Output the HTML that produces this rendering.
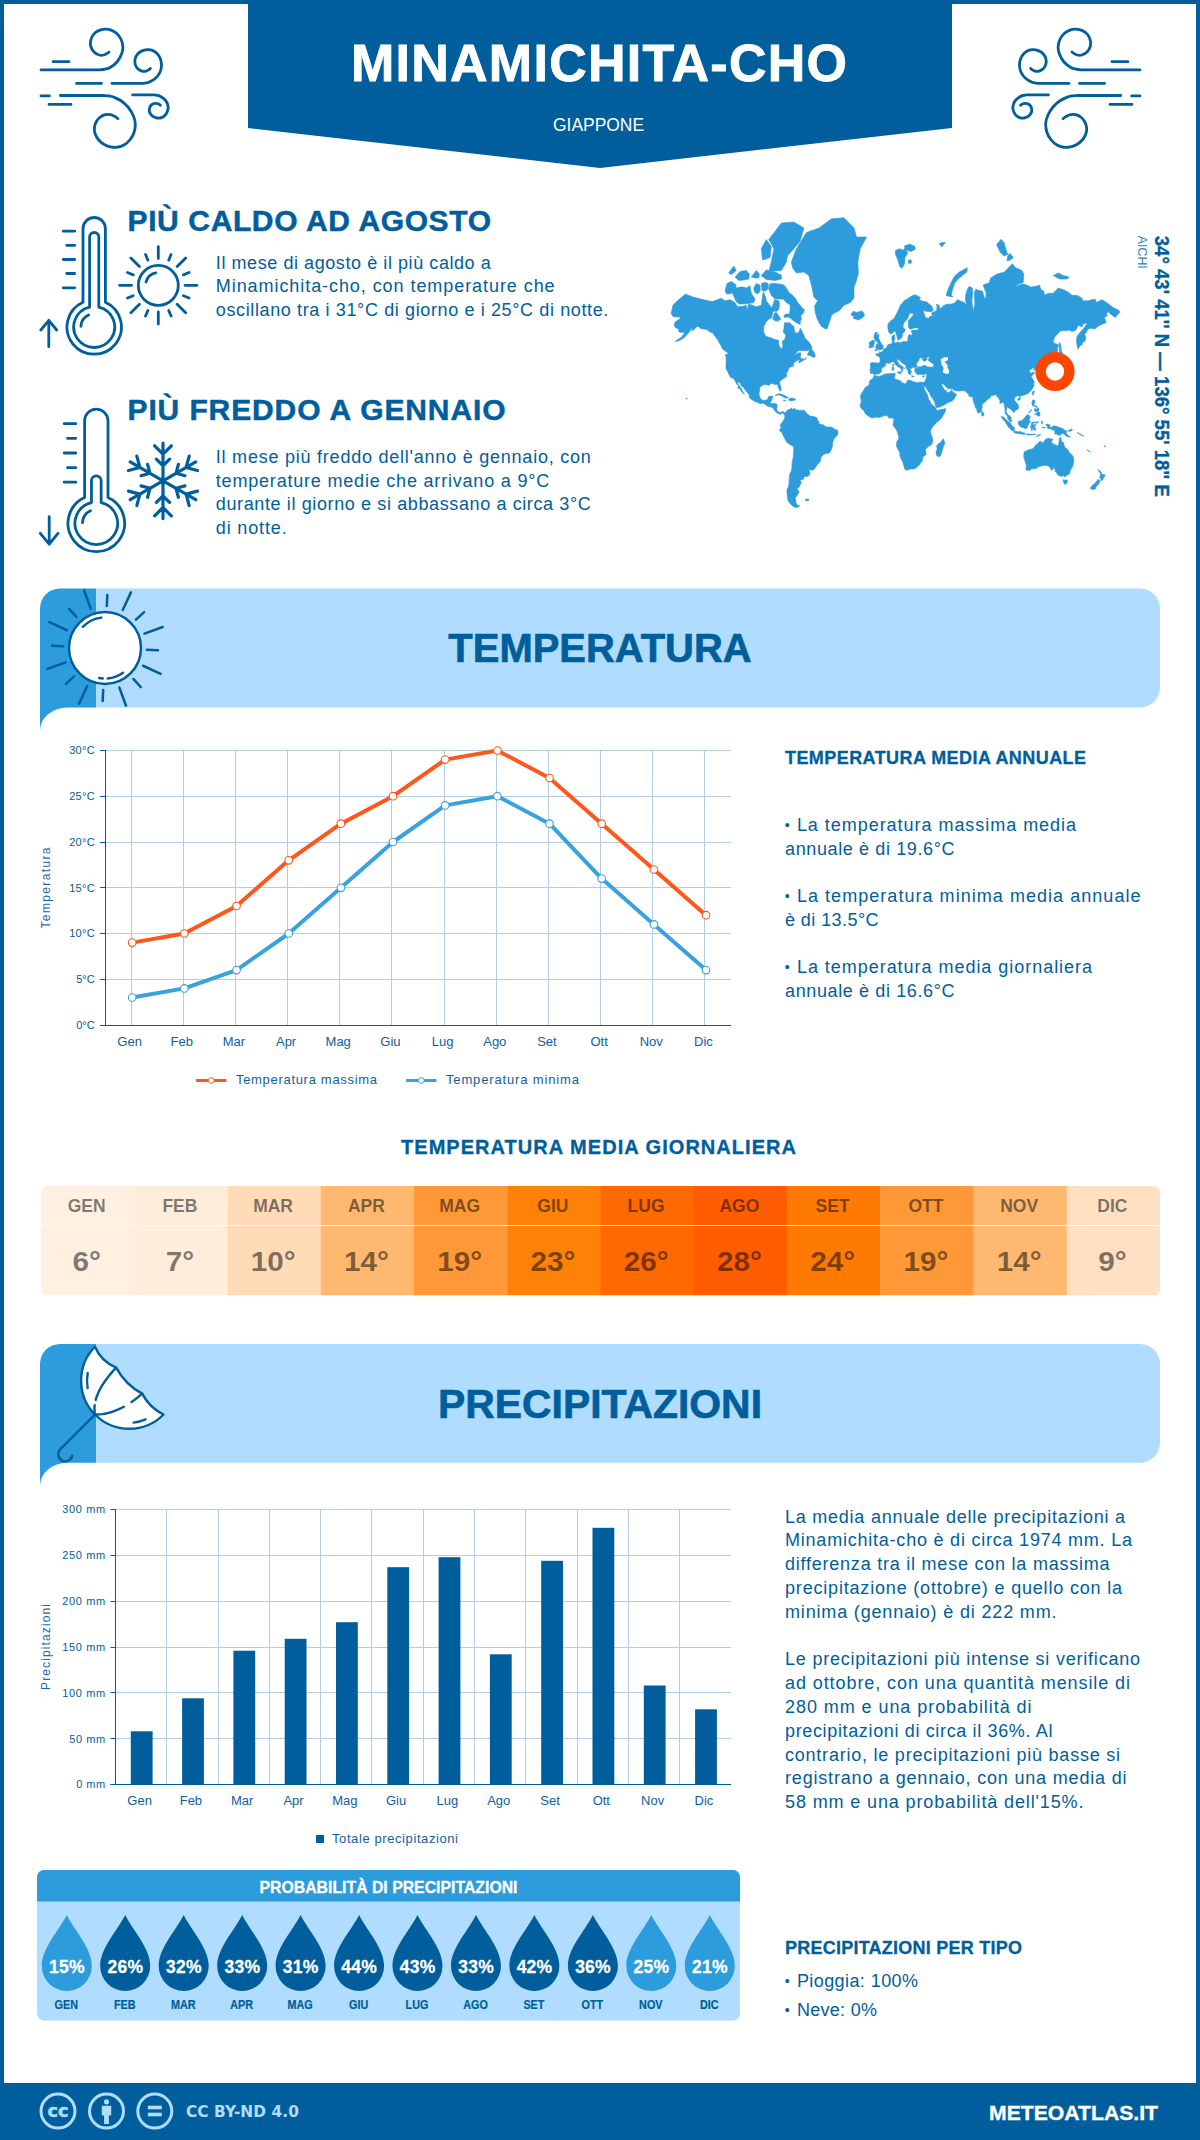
<!DOCTYPE html>
<html lang="it"><head><meta charset="utf-8"><title>Minamichita-cho - Meteo</title>
<style>html,body{margin:0;padding:0;background:#fff}svg{display:block}text{font-family:"Liberation Sans", sans-serif}</style>
</head><body>
<svg width="1200" height="2140" viewBox="0 0 1200 2140">
<rect x="0" y="0" width="1200" height="2140" fill="#fff"/>
<rect x="2" y="2" width="1196" height="2136" fill="none" stroke="#005e9c" stroke-width="4"/>
<rect x="0" y="2083" width="1200" height="57" fill="#005e9c"/>
<polygon points="248,0 952,0 952,128 600,168 248,128" fill="#005e9c"/>
<text x="599.0" y="81.0" font-size="52" font-weight="bold" stroke="#fff" stroke-width="0.83" fill="#fff" text-anchor="middle" textLength="496.0" lengthAdjust="spacing">MINAMICHITA-CHO</text>
<text x="598.5" y="131.0" font-size="18" fill="#fff" text-anchor="middle" textLength="91.0" lengthAdjust="spacingAndGlyphs">GIAPPONE</text>
<g transform="translate(30,20) scale(0.125)"><path d="M88,399 H530 C535.0,398.9 548.3,399.5 560.0,398.5 C571.7,397.5 587.0,395.8 600.0,393.0 C613.0,390.2 621.7,391.8 638.0,382.0 C654.3,372.2 682.0,353.0 698.0,334.0 C714.0,315.0 726.5,288.0 734.0,268.0 C741.5,248.0 744.0,233.0 743.0,214.0 C742.0,195.0 736.5,172.0 728.0,154.0 C719.5,136.0 706.0,118.5 692.0,106.0 C678.0,93.5 659.0,84.5 644.0,79.0 C629.0,73.5 618.0,72.0 602.0,73.0 C586.0,74.0 564.0,77.5 548.0,85.0 C532.0,92.5 516.5,104.5 506.0,118.0 C495.5,131.5 488.2,150.0 485.0,166.0 C481.8,182.0 482.5,199.0 487.0,214.0 C491.5,229.0 500.8,245.0 512.0,256.0 C523.2,267.0 541.0,276.0 554.0,280.0 C567.0,284.0 579.0,282.5 590.0,280.0 C601.0,277.5 613.0,269.0 620.0,265.0 C627.0,261.0 630.0,257.5 632.0,256.0 M185,333 H312 M372,507 H572 M656,507 H880 C884.7,506.9 898.8,507.3 908.0,506.5 C917.2,505.7 927.0,503.8 935.0,502.0 C943.0,500.2 944.5,502.0 956.0,496.0 C967.5,490.0 990.0,479.0 1004.0,466.0 C1018.0,453.0 1032.0,435.0 1040.0,418.0 C1048.0,401.0 1051.5,382.0 1052.0,364.0 C1052.5,346.0 1049.0,326.0 1043.0,310.0 C1037.0,294.0 1027.5,279.5 1016.0,268.0 C1004.5,256.5 987.0,246.2 974.0,241.0 C961.0,235.8 951.0,236.0 938.0,237.0 C925.0,238.0 909.0,240.8 896.0,247.0 C883.0,253.2 869.2,263.5 860.0,274.0 C850.8,284.5 844.2,297.0 841.0,310.0 C837.8,323.0 837.8,339.0 841.0,352.0 C844.2,365.0 850.8,378.5 860.0,388.0 C869.2,397.5 885.0,405.5 896.0,409.0 C907.0,412.5 917.0,410.8 926.0,409.0 C935.0,407.2 943.8,401.7 950.0,398.0 C956.2,394.3 960.8,388.8 963.0,387.0 M88,607 H155 M243,604 H575 C579.5,604.1 591.5,603.8 602.0,604.5 C612.5,605.2 627.0,606.1 638.0,608.0 C649.0,609.9 653.0,609.7 668.0,616.0 C683.0,622.3 709.0,633.0 728.0,646.0 C747.0,659.0 766.0,675.0 782.0,694.0 C798.0,713.0 814.0,738.0 824.0,760.0 C834.0,782.0 840.5,803.0 842.0,826.0 C843.5,849.0 840.0,876.0 833.0,898.0 C826.0,920.0 813.5,941.0 800.0,958.0 C786.5,975.0 769.0,990.0 752.0,1000.0 C735.0,1010.0 716.0,1015.5 698.0,1018.0 C680.0,1020.5 662.0,1019.0 644.0,1015.0 C626.0,1011.0 606.0,1003.5 590.0,994.0 C574.0,984.5 559.5,972.0 548.0,958.0 C536.5,944.0 526.5,926.0 521.0,910.0 C515.5,894.0 513.5,878.0 515.0,862.0 C516.5,846.0 522.5,828.0 530.0,814.0 C537.5,800.0 548.0,787.5 560.0,778.0 C572.0,768.5 588.0,760.5 602.0,757.0 C616.0,753.5 631.0,754.5 644.0,757.0 C657.0,759.5 670.2,766.7 680.0,772.0 C689.8,777.3 699.2,786.2 703.0,789.0 M152,675 H328 M821,599 H965 C969.5,599.1 983.2,598.8 992.0,599.5 C1000.8,600.2 1010.0,601.2 1018.0,603.0 C1026.0,604.8 1029.3,603.8 1040.0,610.0 C1050.7,616.2 1071.5,628.0 1082.0,640.0 C1092.5,652.0 1099.5,669.0 1103.0,682.0 C1106.5,695.0 1106.0,705.5 1103.0,718.0 C1100.0,730.5 1093.5,746.5 1085.0,757.0 C1076.5,767.5 1063.5,776.5 1052.0,781.0 C1040.5,785.5 1028.0,786.0 1016.0,784.0 C1004.0,782.0 989.8,776.5 980.0,769.0 C970.2,761.5 961.0,749.5 957.0,739.0 C953.0,728.5 953.7,716.0 956.0,706.0 C958.3,696.0 964.0,685.5 971.0,679.0 C978.0,672.5 989.0,668.5 998.0,667.0 C1007.0,665.5 1017.5,667.5 1025.0,670.0 C1032.5,672.5 1040.0,680.0 1043.0,682.0" fill="none" stroke="#005e9c" stroke-width="22.5" stroke-linecap="round" stroke-linejoin="round"/></g>
<g transform="translate(1181,0) scale(-1,1)"><g transform="translate(30,20) scale(0.125)"><path d="M88,399 H530 C535.0,398.9 548.3,399.5 560.0,398.5 C571.7,397.5 587.0,395.8 600.0,393.0 C613.0,390.2 621.7,391.8 638.0,382.0 C654.3,372.2 682.0,353.0 698.0,334.0 C714.0,315.0 726.5,288.0 734.0,268.0 C741.5,248.0 744.0,233.0 743.0,214.0 C742.0,195.0 736.5,172.0 728.0,154.0 C719.5,136.0 706.0,118.5 692.0,106.0 C678.0,93.5 659.0,84.5 644.0,79.0 C629.0,73.5 618.0,72.0 602.0,73.0 C586.0,74.0 564.0,77.5 548.0,85.0 C532.0,92.5 516.5,104.5 506.0,118.0 C495.5,131.5 488.2,150.0 485.0,166.0 C481.8,182.0 482.5,199.0 487.0,214.0 C491.5,229.0 500.8,245.0 512.0,256.0 C523.2,267.0 541.0,276.0 554.0,280.0 C567.0,284.0 579.0,282.5 590.0,280.0 C601.0,277.5 613.0,269.0 620.0,265.0 C627.0,261.0 630.0,257.5 632.0,256.0 M185,333 H312 M372,507 H572 M656,507 H880 C884.7,506.9 898.8,507.3 908.0,506.5 C917.2,505.7 927.0,503.8 935.0,502.0 C943.0,500.2 944.5,502.0 956.0,496.0 C967.5,490.0 990.0,479.0 1004.0,466.0 C1018.0,453.0 1032.0,435.0 1040.0,418.0 C1048.0,401.0 1051.5,382.0 1052.0,364.0 C1052.5,346.0 1049.0,326.0 1043.0,310.0 C1037.0,294.0 1027.5,279.5 1016.0,268.0 C1004.5,256.5 987.0,246.2 974.0,241.0 C961.0,235.8 951.0,236.0 938.0,237.0 C925.0,238.0 909.0,240.8 896.0,247.0 C883.0,253.2 869.2,263.5 860.0,274.0 C850.8,284.5 844.2,297.0 841.0,310.0 C837.8,323.0 837.8,339.0 841.0,352.0 C844.2,365.0 850.8,378.5 860.0,388.0 C869.2,397.5 885.0,405.5 896.0,409.0 C907.0,412.5 917.0,410.8 926.0,409.0 C935.0,407.2 943.8,401.7 950.0,398.0 C956.2,394.3 960.8,388.8 963.0,387.0 M88,607 H155 M243,604 H575 C579.5,604.1 591.5,603.8 602.0,604.5 C612.5,605.2 627.0,606.1 638.0,608.0 C649.0,609.9 653.0,609.7 668.0,616.0 C683.0,622.3 709.0,633.0 728.0,646.0 C747.0,659.0 766.0,675.0 782.0,694.0 C798.0,713.0 814.0,738.0 824.0,760.0 C834.0,782.0 840.5,803.0 842.0,826.0 C843.5,849.0 840.0,876.0 833.0,898.0 C826.0,920.0 813.5,941.0 800.0,958.0 C786.5,975.0 769.0,990.0 752.0,1000.0 C735.0,1010.0 716.0,1015.5 698.0,1018.0 C680.0,1020.5 662.0,1019.0 644.0,1015.0 C626.0,1011.0 606.0,1003.5 590.0,994.0 C574.0,984.5 559.5,972.0 548.0,958.0 C536.5,944.0 526.5,926.0 521.0,910.0 C515.5,894.0 513.5,878.0 515.0,862.0 C516.5,846.0 522.5,828.0 530.0,814.0 C537.5,800.0 548.0,787.5 560.0,778.0 C572.0,768.5 588.0,760.5 602.0,757.0 C616.0,753.5 631.0,754.5 644.0,757.0 C657.0,759.5 670.2,766.7 680.0,772.0 C689.8,777.3 699.2,786.2 703.0,789.0 M152,675 H328 M821,599 H965 C969.5,599.1 983.2,598.8 992.0,599.5 C1000.8,600.2 1010.0,601.2 1018.0,603.0 C1026.0,604.8 1029.3,603.8 1040.0,610.0 C1050.7,616.2 1071.5,628.0 1082.0,640.0 C1092.5,652.0 1099.5,669.0 1103.0,682.0 C1106.5,695.0 1106.0,705.5 1103.0,718.0 C1100.0,730.5 1093.5,746.5 1085.0,757.0 C1076.5,767.5 1063.5,776.5 1052.0,781.0 C1040.5,785.5 1028.0,786.0 1016.0,784.0 C1004.0,782.0 989.8,776.5 980.0,769.0 C970.2,761.5 961.0,749.5 957.0,739.0 C953.0,728.5 953.7,716.0 956.0,706.0 C958.3,696.0 964.0,685.5 971.0,679.0 C978.0,672.5 989.0,668.5 998.0,667.0 C1007.0,665.5 1017.5,667.5 1025.0,670.0 C1032.5,672.5 1040.0,680.0 1043.0,682.0" fill="none" stroke="#005e9c" stroke-width="22.5" stroke-linecap="round" stroke-linejoin="round"/></g></g>
<path d="M83.00,302.21 V228.70 A11.20,11.20 0 0 1 105.40,228.70 V302.21 A27.20,27.20 0 1 1 83.00,302.21 Z M89.60,307.02 V237.10 A4.60,4.60 0 0 1 98.80,237.10 V307.02 A20.50,20.50 0 1 1 89.60,307.02 Z M80.89,326.30 A13.33,13.33 0 0 1 88.57,314.92 M63.3,231.2 H74.7 M63.3,259.5 H74.7 M63.3,287.8 H74.7 M66.7,245.3 H74.7 M66.7,273.5 H74.7 M48.8,346.7 V320.5 M40.8,330 L48.8,320.3 L56.7,330" fill="none" stroke="#005e9c" stroke-width="2.8" stroke-linecap="round" stroke-linejoin="round"/>
<path d="M84.60,497.53 V420.90 A11.70,11.70 0 0 1 108.00,420.90 V497.53 A28.30,28.30 0 1 1 84.60,497.53 Z M91.45,502.56 V480.65 A4.85,4.85 0 0 1 101.15,480.65 V502.56 A21.30,21.30 0 1 1 91.45,502.56 Z M82.47,522.58 A13.85,13.85 0 0 1 90.45,510.75 M64.2,423.7 H75.8 M64.2,453.0 H75.8 M64.2,482.2 H75.8 M67.5,438.3 H75.8 M67.5,467.7 H75.8 M49.2,516.7 V544 M40.3,533.3 L49.2,544.2 L58,533.3" fill="none" stroke="#005e9c" stroke-width="2.8" stroke-linecap="round" stroke-linejoin="round"/>
<circle cx="158.3" cy="285.3" r="20" fill="none" stroke="#005e9c" stroke-width="2.8"/>
<path d="M185.00,285.30 L197.00,285.30 M183.43,295.71 L189.07,298.04 M177.18,304.18 L185.67,312.67 M168.71,310.43 L171.04,316.07 M158.30,312.00 L158.30,324.00 M147.89,310.43 L145.56,316.07 M139.42,304.18 L130.93,312.67 M133.17,295.71 L127.53,298.04 M131.60,285.30 L119.60,285.30 M133.17,274.89 L127.53,272.56 M139.42,266.42 L130.93,257.93 M147.89,260.17 L145.56,254.53 M158.30,258.60 L158.30,246.60 M168.71,260.17 L171.04,254.53 M177.18,266.42 L185.67,257.93 M183.43,274.89 L189.07,272.56 M146.03,282.01 A12.7,12.7 0 0 1 155.66,272.88" fill="none" stroke="#005e9c" stroke-width="2.8" stroke-linecap="round"/>
<path d="M163.00,480.80 L163.00,443.00 M163.00,454.10 L154.66,445.76 M163.00,454.10 L171.34,445.76 M163.00,465.80 L156.42,459.22 M163.00,465.80 L169.58,459.22 M163.00,480.80 L195.74,461.90 M186.12,467.45 L189.18,456.05 M186.12,467.45 L197.52,470.50 M175.99,473.30 L178.40,464.32 M175.99,473.30 L184.97,475.71 M163.00,480.80 L195.74,499.70 M186.12,494.15 L197.52,491.10 M186.12,494.15 L189.18,505.55 M175.99,488.30 L184.97,485.89 M175.99,488.30 L178.40,497.28 M163.00,480.80 L163.00,518.60 M163.00,507.50 L171.34,515.84 M163.00,507.50 L154.66,515.84 M163.00,495.80 L169.58,502.38 M163.00,495.80 L156.42,502.38 M163.00,480.80 L130.26,499.70 M139.88,494.15 L136.82,505.55 M139.88,494.15 L128.48,491.10 M150.01,488.30 L147.60,497.28 M150.01,488.30 L141.03,485.89 M163.00,480.80 L130.26,461.90 M139.88,467.45 L128.48,470.50 M139.88,467.45 L136.82,456.05 M150.01,473.30 L141.03,475.71 M150.01,473.30 L147.60,464.32" fill="none" stroke="#005e9c" stroke-width="3.2" stroke-linecap="round"/>
<path d="M671.1,313.7 L673.0,305.0 L677.4,300.8 L685.5,294.1 L693.7,297.2 L704.9,300.1 L712.5,301.5 L721.2,298.3 L725.0,300.8 L730.0,299.7 L735.0,302.6 L737.5,306.7 L743.8,306.3 L746.3,305.0 L746.9,309.9 L748.8,304.0 L756.3,306.7 L761.3,305.3 L761.9,300.8 L763.2,291.7 L765.7,297.2 L766.3,300.8 L768.8,304.3 L772.0,307.7 L774.5,299.7 L778.9,300.8 L779.5,304.3 L778.9,309.3 L776.4,311.5 L773.2,310.9 L772.6,314.0 L771.3,317.8 L768.2,319.8 L766.3,321.7 L763.8,326.3 L763.6,332.0 L765.7,336.3 L771.3,337.9 L775.1,339.6 L778.5,340.3 L778.9,345.0 L780.7,348.5 L782.6,348.1 L782.9,345.0 L782.0,341.8 L785.1,338.5 L785.8,335.1 L783.2,332.0 L783.9,329.1 L784.5,322.8 L789.5,322.8 L793.9,326.5 L794.5,331.5 L796.4,333.2 L798.9,332.0 L800.4,328.3 L803.3,333.9 L805.2,338.5 L807.7,340.7 L809.6,342.9 L811.4,346.0 L811.8,348.1 L807.7,350.7 L802.7,350.5 L798.3,350.7 L795.8,353.0 L793.9,355.8 L797.7,353.0 L800.8,352.8 L800.8,354.9 L800.2,356.7 L800.8,358.2 L802.7,358.9 L805.2,359.3 L806.4,357.1 L805.8,358.9 L802.0,361.2 L798.9,363.0 L798.9,361.2 L800.8,359.4 L797.7,360.3 L795.8,361.6 L793.6,363.0 L793.0,365.5 L793.9,366.0 L792.0,366.5 L788.9,367.8 L788.6,369.6 L787.4,372.1 L786.4,373.6 L786.9,376.3 L784.5,378.0 L782.6,379.3 L780.1,381.2 L779.6,383.4 L780.7,386.3 L781.2,389.1 L780.9,391.0 L779.9,390.8 L778.9,388.7 L777.9,387.0 L778.0,385.3 L776.4,384.2 L774.5,384.5 L772.6,383.6 L770.1,383.7 L769.6,385.3 L767.6,385.0 L764.5,384.6 L762.6,385.3 L760.1,387.0 L759.6,389.8 L759.2,392.6 L759.1,394.9 L759.8,397.3 L761.3,399.2 L763.2,400.4 L765.7,399.9 L767.6,399.6 L768.2,397.3 L768.8,396.5 L771.3,395.9 L772.8,396.1 L772.3,398.0 L771.8,400.0 L771.1,401.3 L770.3,403.4 L772.6,403.5 L775.1,403.4 L777.2,404.6 L777.0,407.2 L776.7,409.7 L777.6,411.0 L778.9,412.3 L780.7,412.3 L782.0,411.6 L783.9,411.9 L784.8,412.9 L784.5,414.2 L783.5,413.8 L782.0,412.5 L781.0,414.4 L779.5,413.9 L777.6,413.2 L775.1,411.3 L774.2,409.7 L772.0,407.2 L769.5,406.7 L767.0,405.9 L764.5,403.9 L763.2,403.0 L760.7,403.7 L757.6,402.5 L754.4,401.2 L751.3,399.3 L749.4,397.7 L749.7,396.0 L748.2,393.6 L746.3,391.2 L744.4,389.1 L743.2,387.3 L741.0,385.6 L740.0,382.7 L737.8,381.7 L738.1,384.2 L740.3,387.0 L741.9,389.8 L743.2,392.2 L744.4,394.0 L743.5,393.6 L741.3,391.5 L740.6,389.6 L738.5,388.2 L737.5,387.3 L738.8,386.3 L736.9,384.2 L735.5,381.7 L734.8,380.2 L733.1,378.3 L730.6,377.5 L729.0,374.4 L728.1,372.4 L726.5,369.6 L725.9,368.2 L726.0,365.5 L726.1,362.1 L726.2,358.2 L725.4,354.3 L727.5,354.5 L728.1,356.2 L727.7,353.0 L725.6,351.0 L722.5,349.1 L721.2,346.0 L718.7,341.8 L717.5,339.6 L715.0,336.3 L712.5,332.7 L710.0,332.0 L706.8,329.6 L703.7,329.1 L700.6,328.6 L698.7,326.5 L696.2,327.0 L694.3,329.6 L691.8,330.8 L692.4,326.5 L690.5,330.3 L688.7,332.7 L685.5,336.3 L683.0,338.5 L679.9,340.3 L676.8,341.2 L675.1,341.6 L678.0,339.2 L681.1,337.4 L683.6,334.4 L684.6,332.0 L682.4,332.5 L678.9,332.0 L678.6,329.1 L675.5,327.8 L674.2,325.2 L674.9,322.3 L677.4,320.3 L679.9,318.9 L679.9,316.9 L677.4,316.9 L673.6,316.9Z M791.4,261.9 L796.4,248.7 L806.4,232.6 L819.0,228.0 L831.5,218.8 L844.0,217.7 L854.0,228.0 L856.5,237.0 L866.6,237.0 L860.3,248.7 L857.8,261.9 L858.4,273.0 L856.5,280.4 L854.0,287.1 L854.0,293.3 L854.0,297.9 L850.3,302.6 L844.0,305.3 L839.0,310.9 L834.0,313.3 L831.5,315.5 L830.2,319.8 L828.4,325.2 L827.1,329.1 L824.6,328.6 L821.5,326.5 L819.0,322.5 L817.1,318.4 L815.2,312.4 L814.6,306.0 L817.7,300.8 L813.9,297.2 L812.7,291.3 L811.4,285.0 L808.9,275.6 L803.9,272.0 L796.4,273.0 L792.6,267.7Z M800.2,324.4 L798.9,323.9 L795.1,322.0 L791.4,318.9 L788.3,316.9 L784.5,317.5 L783.9,315.5 L786.4,314.0 L789.5,314.0 L790.1,309.3 L790.1,305.0 L786.4,302.6 L783.2,299.0 L780.1,299.0 L775.1,299.0 L771.3,295.3 L768.8,289.3 L770.1,283.6 L775.1,283.6 L780.1,284.1 L783.9,285.0 L786.4,288.0 L788.9,292.5 L792.6,295.3 L795.8,299.0 L797.7,302.6 L801.4,306.7 L804.5,310.2 L802.7,314.0 L800.8,315.5 L801.4,318.9 L800.2,321.7Z M732.5,293.3 L735.0,288.0 L740.0,287.1 L743.8,287.1 L746.3,288.0 L750.0,285.8 L751.3,293.3 L755.1,299.0 L753.8,302.6 L750.0,303.3 L743.8,304.0 L738.8,304.0 L735.6,300.8 L734.4,297.2Z M725.0,291.3 L726.9,283.6 L731.3,281.4 L736.3,285.0 L734.4,291.3 L730.6,293.7 L726.9,294.1Z M768.8,271.5 L771.3,261.9 L773.9,248.7 L768.8,239.5 L781.4,223.0 L793.9,222.0 L803.9,228.0 L800.2,241.1 L793.9,248.7 L787.6,255.6 L786.4,261.9 L781.4,270.4 L775.1,270.9Z M761.3,275.6 L766.3,269.9 L775.1,272.0 L781.4,275.1 L781.4,279.0 L775.1,280.4 L766.3,279.5Z M762.6,260.0 L761.3,248.7 L766.3,239.5 L771.3,246.5 L770.1,257.5Z M735.0,277.1 L740.0,271.5 L746.3,270.4 L749.4,274.1 L748.8,279.0 L743.8,280.0 L738.8,280.4Z M751.3,277.1 L756.3,270.4 L759.4,274.1 L758.8,278.0 L755.1,278.0Z M728.7,273.0 L733.8,266.0 L736.3,270.4 L731.3,274.6Z M761.9,290.5 L761.3,283.6 L765.1,282.3 L768.2,283.6 L768.5,288.4 L765.1,291.3Z M753.8,288.0 L756.3,283.6 L760.1,285.0 L760.1,291.3 L757.6,294.1 L754.4,292.1Z M772.6,318.4 L774.5,313.0 L776.4,312.4 L779.5,316.9 L780.7,319.2 L777.6,321.2 L774.5,320.6Z M807.2,355.1 L808.3,353.0 L809.7,349.7 L811.4,347.9 L812.1,350.1 L813.9,351.8 L814.6,353.9 L815.4,355.8 L814.6,357.3 L812.1,356.7 L810.8,355.8Z M775.1,395.5 L778.2,393.8 L781.4,394.0 L784.5,395.6 L787.6,397.1 L788.6,397.7 L784.5,398.1 L783.9,397.1 L780.7,395.6 L778.9,394.8 L776.4,395.6Z M788.4,400.1 L790.1,398.1 L793.9,398.3 L795.9,399.9 L793.9,400.3 L791.8,400.9Z M783.5,400.1 L786.0,400.4 L785.3,400.9 L783.6,400.7Z M851.2,313.7 L853.4,311.2 L856.5,312.4 L861.6,310.9 L863.4,312.4 L864.6,315.5 L862.8,317.5 L858.4,320.1 L855.3,318.9 L853.2,318.4 L854.0,316.0 L851.5,315.7Z M784.8,412.9 L786.4,411.9 L787.0,410.2 L788.3,409.7 L790.1,409.1 L792.0,407.9 L792.0,409.7 L793.9,409.1 L794.1,408.2 L796.0,409.7 L798.9,410.2 L801.4,410.4 L803.9,410.1 L805.2,411.6 L806.4,412.9 L808.3,414.8 L810.2,416.1 L812.7,416.2 L815.8,417.3 L817.1,418.1 L817.7,420.5 L819.0,421.7 L819.0,423.6 L820.8,424.6 L822.7,424.5 L825.8,426.7 L829.0,427.1 L831.5,427.1 L833.4,428.2 L835.2,429.6 L837.4,430.1 L838.0,432.6 L837.7,434.9 L835.9,436.8 L834.6,438.1 L833.4,440.0 L832.7,442.6 L832.5,445.9 L831.5,449.2 L830.2,451.9 L829.0,453.2 L825.8,453.5 L823.6,454.6 L821.5,456.4 L820.7,458.8 L820.5,460.9 L819.0,463.0 L817.1,465.2 L815.8,466.7 L814.6,468.9 L812.7,470.3 L810.2,470.0 L808.4,468.9 L809.9,472.0 L809.6,475.1 L807.7,476.3 L803.9,476.7 L803.5,479.2 L800.2,480.0 L800.8,482.5 L801.8,483.0 L800.2,484.2 L799.5,486.9 L797.0,488.7 L798.9,491.4 L799.2,492.3 L796.8,495.8 L795.1,498.1 L795.9,500.8 L795.8,502.2 L797.7,505.4 L799.9,505.8 L798.3,506.9 L796.4,507.6 L793.9,506.9 L791.4,504.9 L788.9,502.2 L787.9,500.1 L787.3,496.2 L787.0,492.3 L786.9,489.9 L788.3,486.9 L788.9,484.2 L789.1,481.7 L789.3,478.4 L789.5,475.1 L790.1,473.6 L791.4,470.5 L791.9,467.4 L792.0,463.0 L792.6,460.2 L793.3,456.7 L793.5,453.2 L793.8,449.5 L793.5,447.1 L792.0,445.6 L789.5,444.3 L787.0,442.6 L786.0,441.1 L784.9,438.7 L783.5,436.2 L782.6,433.9 L781.4,432.0 L779.9,431.1 L779.7,429.2 L781.0,427.9 L781.4,426.7 L780.1,426.4 L780.4,424.9 L781.4,423.0 L782.6,422.0 L783.2,420.5 L784.5,418.8 L784.8,416.7 L784.5,414.8 L784.0,414.4Z M805.2,499.3 L808.9,498.9 L808.3,500.8 L805.8,500.8Z M874.2,375.5 L879.1,376.4 L881.6,375.5 L885.4,373.9 L890.4,373.6 L894.1,373.2 L895.4,373.6 L894.8,376.0 L894.4,378.3 L896.0,379.5 L897.9,379.9 L900.6,380.8 L901.6,382.4 L904.2,383.4 L906.0,383.7 L906.7,382.0 L906.9,380.8 L908.5,379.9 L910.4,380.4 L912.9,381.5 L915.4,382.3 L917.9,382.9 L919.8,382.1 L922.1,382.3 L924.4,382.3 L925.3,384.9 L924.6,387.0 L923.9,386.7 L922.4,384.3 L922.2,384.7 L923.6,387.0 L924.8,389.8 L926.1,392.6 L927.7,395.3 L928.2,397.3 L928.6,399.6 L930.2,401.3 L931.1,403.9 L933.0,405.2 L935.2,407.4 L935.9,408.7 L937.4,410.4 L940.5,409.5 L943.0,409.3 L945.7,408.6 L945.5,410.4 L944.6,412.9 L943.0,415.4 L941.7,418.0 L939.2,420.5 L938.4,421.1 L936.1,423.0 L934.2,424.9 L932.7,426.7 L931.7,428.6 L930.5,430.5 L930.8,432.4 L931.1,434.9 L932.2,436.8 L932.5,439.4 L932.6,442.6 L931.1,445.0 L928.6,446.3 L927.1,447.7 L925.5,449.2 L925.8,451.9 L926.1,454.6 L923.6,456.4 L922.6,457.4 L922.7,459.5 L922.2,461.3 L920.4,463.0 L919.2,465.2 L917.3,467.1 L915.4,468.3 L913.8,468.9 L910.4,469.1 L906.7,470.2 L904.7,469.2 L904.2,466.7 L903.1,463.0 L902.3,461.0 L900.6,458.1 L899.8,454.6 L899.8,452.5 L898.3,449.9 L896.6,446.5 L896.4,443.9 L897.0,441.3 L898.5,439.4 L898.9,437.5 L898.1,434.9 L897.6,432.4 L897.0,431.1 L896.6,429.9 L895.4,428.4 L893.9,426.7 L892.9,424.9 L893.4,423.0 L893.6,420.7 L893.9,419.2 L892.8,418.0 L891.6,418.0 L890.4,418.1 L889.1,418.2 L887.9,416.3 L887.1,415.7 L885.9,415.6 L883.5,415.8 L882.9,416.3 L880.3,417.1 L879.1,417.6 L877.2,417.2 L875.3,417.1 L872.2,418.1 L870.3,417.3 L868.1,415.7 L865.9,414.2 L864.9,412.9 L864.4,411.6 L862.8,409.7 L861.6,408.7 L860.6,407.8 L860.7,406.1 L859.7,405.0 L860.9,403.3 L861.2,400.7 L860.9,398.7 L860.3,396.7 L861.6,393.3 L862.9,391.5 L864.1,389.4 L865.3,387.3 L867.2,386.3 L869.1,384.9 L869.4,383.4 L869.3,382.0 L870.3,380.1 L872.1,378.9 L873.5,377.5Z M943.4,438.7 L944.9,443.3 L943.6,445.9 L942.4,449.9 L941.1,453.9 L940.5,456.0 L938.6,456.7 L936.7,455.7 L935.9,452.5 L937.1,449.2 L936.7,445.9 L938.0,443.9 L940.5,442.6 L941.7,440.7Z M874.6,375.2 L873.6,373.9 L872.2,373.5 L870.4,373.6 L870.6,371.3 L869.7,370.8 L870.4,368.5 L870.6,365.8 L870.1,363.8 L871.6,362.6 L874.7,362.8 L877.2,363.0 L879.3,363.1 L880.1,360.9 L880.1,358.5 L878.8,356.4 L876.0,355.1 L875.7,354.1 L877.8,353.4 L879.6,353.5 L879.3,351.6 L881.3,352.4 L881.9,351.6 L883.6,350.5 L883.6,349.3 L886.0,348.3 L886.9,346.7 L887.6,345.0 L889.1,344.2 L890.4,344.0 L892.2,343.5 L892.5,341.8 L891.9,339.6 L891.9,336.3 L894.9,334.6 L894.5,337.4 L895.1,338.5 L894.1,340.3 L893.9,341.2 L895.1,342.9 L896.6,342.5 L898.5,341.8 L899.5,343.1 L902.3,341.8 L904.8,341.4 L906.4,341.8 L907.9,340.3 L907.9,337.4 L908.5,335.1 L909.8,334.6 L911.9,335.8 L912.2,333.2 L911.0,331.0 L912.9,330.3 L916.7,330.1 L919.2,329.1 L917.3,327.8 L914.2,328.0 L910.4,329.3 L908.5,327.5 L908.3,323.9 L908.2,320.6 L910.4,318.4 L912.9,315.5 L913.3,313.7 L911.9,313.0 L909.4,313.7 L908.3,316.9 L907.3,319.2 L904.8,321.7 L903.3,323.9 L903.1,327.3 L905.2,329.6 L904.8,331.5 L902.5,333.2 L902.3,336.3 L901.6,338.1 L899.8,338.5 L899.4,339.9 L897.9,339.9 L897.5,338.3 L896.6,335.1 L895.6,332.0 L895.0,330.8 L893.5,332.0 L891.6,333.7 L890.4,333.9 L888.7,332.0 L887.9,328.3 L887.9,324.4 L889.7,321.7 L892.2,319.8 L894.1,318.6 L895.4,316.0 L897.3,312.4 L899.1,308.3 L900.4,305.0 L902.3,303.3 L904.2,300.5 L907.3,299.0 L910.4,296.8 L913.9,294.9 L916.7,295.3 L920.4,297.5 L919.2,299.7 L922.9,301.2 L926.7,301.9 L931.7,306.0 L933.2,309.9 L931.7,311.8 L926.7,311.5 L922.9,310.2 L924.8,315.5 L925.5,317.5 L928.6,318.6 L929.8,316.3 L932.3,316.6 L931.7,313.0 L934.8,311.2 L936.7,310.9 L937.0,306.0 L936.1,304.0 L939.2,305.3 L939.9,309.3 L941.7,307.3 L944.2,305.3 L948.0,304.0 L950.5,304.3 L954.3,303.3 L957.4,299.7 L961.8,301.5 L964.3,302.6 L966.8,305.0 L965.5,300.8 L965.5,295.3 L967.4,289.3 L969.3,286.3 L972.4,288.0 L972.8,293.3 L971.8,300.8 L973.1,310.9 L974.9,304.3 L974.3,293.3 L975.6,289.3 L979.3,290.5 L982.5,291.3 L984.3,297.2 L985.6,299.0 L986.2,293.3 L983.1,285.0 L989.3,282.7 L990.6,278.0 L996.9,274.1 L1004.4,272.0 L1012.3,263.7 L1015.7,267.7 L1021.9,270.4 L1023.8,274.1 L1023.2,282.7 L1019.4,283.6 L1014.4,287.1 L1021.9,284.1 L1025.7,284.5 L1030.7,287.1 L1036.3,286.3 L1039.5,285.0 L1040.7,289.3 L1043.9,291.3 L1044.5,295.3 L1048.2,293.3 L1053.2,293.3 L1057.0,289.3 L1058.3,288.0 L1064.5,290.1 L1069.5,292.9 L1072.0,295.3 L1077.1,295.3 L1082.1,298.3 L1082.7,300.8 L1088.3,300.8 L1092.1,299.4 L1095.8,299.4 L1095.8,302.6 L1102.1,299.7 L1107.1,302.9 L1113.4,307.7 L1118.4,309.9 L1120.0,312.1 L1116.5,316.0 L1115.3,317.5 L1110.3,314.0 L1108.4,311.5 L1105.9,314.9 L1107.7,315.5 L1105.2,316.9 L1104.0,316.3 L1106.2,322.5 L1100.9,324.7 L1097.1,327.0 L1095.0,329.1 L1090.8,328.3 L1087.7,329.3 L1086.2,332.7 L1084.6,334.4 L1085.8,337.4 L1085.2,340.7 L1082.1,342.9 L1082.1,345.0 L1080.2,345.4 L1077.9,349.1 L1077.1,346.0 L1076.6,341.8 L1076.7,337.4 L1078.3,334.4 L1080.8,331.5 L1083.9,328.3 L1086.4,324.4 L1087.1,322.5 L1082.7,324.4 L1082.1,327.0 L1078.3,325.2 L1075.8,330.3 L1072.0,331.5 L1069.5,330.1 L1064.5,330.8 L1060.8,330.8 L1057.0,334.4 L1054.5,337.4 L1053.2,341.2 L1053.9,343.3 L1057.0,344.0 L1058.6,345.0 L1057.6,348.1 L1057.4,351.0 L1057.0,353.9 L1055.1,357.1 L1052.6,360.3 L1050.7,363.0 L1048.2,364.2 L1047.0,363.5 L1045.4,365.0 L1044.1,366.5 L1043.9,368.0 L1041.3,369.5 L1042.3,371.3 L1043.6,373.6 L1043.7,375.8 L1042.6,376.7 L1040.1,377.6 L1039.8,376.0 L1040.2,373.6 L1038.5,372.4 L1038.2,371.1 L1038.6,369.6 L1037.3,368.8 L1035.1,369.6 L1033.6,370.6 L1034.2,368.5 L1033.2,367.5 L1031.3,369.2 L1029.4,370.1 L1029.2,371.3 L1030.4,372.4 L1030.9,373.3 L1033.0,372.4 L1035.1,373.0 L1033.2,374.3 L1032.3,375.2 L1031.1,376.7 L1032.3,378.3 L1033.1,380.1 L1034.2,381.5 L1034.3,382.9 L1033.0,383.7 L1034.2,384.9 L1033.8,386.6 L1032.6,388.2 L1031.7,389.8 L1030.7,391.0 L1029.7,391.9 L1028.2,393.3 L1026.3,394.2 L1024.4,394.9 L1022.6,395.6 L1020.4,396.1 L1019.8,397.6 L1019.2,396.1 L1017.5,395.7 L1015.7,396.7 L1015.3,397.3 L1014.0,399.3 L1015.0,400.9 L1016.3,402.6 L1017.9,404.2 L1018.5,406.5 L1018.4,408.5 L1016.9,409.7 L1015.4,410.6 L1015.0,411.6 L1013.2,412.7 L1012.9,411.0 L1011.3,410.1 L1010.0,408.7 L1008.1,407.6 L1007.5,406.7 L1006.9,407.8 L1006.6,409.7 L1005.9,411.6 L1007.1,412.9 L1007.5,414.6 L1009.1,415.4 L1010.0,416.1 L1011.1,417.6 L1011.3,419.8 L1011.9,421.7 L1011.0,421.8 L1009.4,420.7 L1008.5,419.8 L1007.5,418.0 L1007.3,416.1 L1006.3,414.6 L1005.0,413.3 L1005.0,411.0 L1005.0,408.5 L1004.4,405.9 L1004.0,402.9 L1002.5,402.2 L1001.3,403.4 L999.7,403.0 L1000.0,400.7 L998.7,398.3 L997.1,396.7 L996.6,394.9 L995.0,394.7 L993.1,395.6 L990.6,396.0 L990.4,397.6 L988.7,398.5 L986.8,400.3 L984.7,402.2 L983.1,403.5 L982.1,404.6 L982.2,406.9 L981.7,409.1 L981.6,410.6 L980.6,411.9 L979.6,412.5 L978.7,413.4 L977.4,412.3 L976.6,409.3 L975.3,407.2 L974.6,404.6 L973.7,402.6 L973.1,400.0 L972.8,398.7 L972.7,396.7 L972.6,396.4 L970.3,396.9 L968.1,394.9 L969.3,394.0 L967.4,393.3 L965.5,391.5 L964.9,390.7 L961.8,390.8 L958.7,391.1 L955.5,390.7 L953.4,390.1 L952.8,388.4 L950.5,388.9 L948.0,388.4 L946.1,387.0 L945.2,385.7 L943.0,383.7 L941.7,384.2 L941.7,385.0 L942.7,387.0 L944.2,389.0 L945.2,391.2 L946.2,389.8 L946.1,391.9 L948.0,392.5 L949.9,392.2 L952.0,389.6 L952.4,391.9 L954.9,393.2 L956.5,394.7 L954.9,397.3 L954.0,399.3 L952.4,400.7 L950.5,401.7 L948.0,402.6 L945.5,404.2 L943.0,405.6 L940.5,406.8 L938.0,407.4 L936.1,407.6 L935.5,405.9 L935.1,403.9 L934.6,402.0 L933.0,399.3 L930.7,396.0 L929.2,392.6 L927.3,389.8 L925.5,387.0 L925.3,384.9 L924.4,382.3 L925.5,380.1 L926.5,377.5 L926.7,375.2 L927.0,373.9 L924.8,374.1 L922.9,375.0 L921.7,374.4 L919.9,373.9 L918.6,374.9 L916.7,374.1 L915.8,372.8 L914.6,371.3 L915.2,369.6 L914.4,368.8 L916.1,368.2 L917.9,367.8 L918.1,366.9 L921.1,366.7 L923.6,365.5 L925.5,365.5 L927.3,366.7 L929.8,367.2 L932.3,367.2 L933.7,366.2 L933.6,364.3 L931.7,363.0 L929.8,361.6 L928.3,360.3 L929.2,357.6 L930.7,356.4 L929.0,356.7 L926.1,358.0 L927.3,359.6 L925.8,360.3 L924.2,361.4 L923.6,361.0 L922.3,359.6 L923.7,358.5 L921.7,358.2 L920.4,357.5 L919.2,358.9 L918.8,360.0 L917.6,362.1 L916.7,363.3 L916.3,364.7 L916.8,366.2 L917.9,366.9 L916.1,367.2 L914.8,367.8 L914.2,367.5 L912.3,367.3 L911.4,368.5 L910.2,368.0 L910.2,369.6 L910.8,370.5 L911.7,371.7 L911.7,372.5 L910.7,372.2 L910.5,374.6 L909.7,374.6 L908.8,373.9 L908.0,372.4 L908.3,371.4 L907.7,370.5 L906.9,369.3 L905.9,368.0 L906.0,365.8 L904.8,364.7 L902.3,363.0 L900.6,361.6 L899.8,359.8 L898.9,360.7 L898.6,359.1 L897.0,359.8 L897.3,361.7 L898.6,363.0 L899.4,364.7 L901.6,365.7 L902.9,367.2 L904.8,368.5 L902.9,368.0 L902.4,369.6 L903.0,370.5 L901.6,372.2 L901.3,371.7 L901.6,370.5 L901.1,368.8 L899.8,367.7 L897.9,366.7 L896.9,365.8 L895.4,364.7 L894.5,363.0 L893.9,361.9 L892.6,361.4 L891.0,362.4 L889.1,363.6 L887.6,363.1 L886.0,363.3 L885.4,364.7 L885.6,365.7 L884.4,366.5 L882.6,367.5 L881.3,369.6 L881.9,370.8 L880.7,372.5 L879.1,373.9 L876.1,374.1Z M874.5,350.8 L876.3,350.5 L877.8,349.7 L880.1,349.7 L883.2,348.9 L883.4,348.3 L882.2,348.1 L883.7,345.8 L882.0,345.0 L881.7,343.7 L880.1,341.6 L879.6,339.6 L878.5,338.5 L879.1,334.6 L876.6,334.9 L877.8,332.5 L875.3,332.5 L874.3,335.1 L873.8,336.9 L874.7,339.6 L875.6,340.7 L875.5,341.4 L877.3,341.0 L877.6,342.9 L877.8,344.2 L876.0,344.4 L876.3,346.0 L875.1,347.3 L876.6,347.9 L877.8,348.3 L876.0,348.9Z M869.3,348.1 L871.6,347.5 L873.6,346.7 L874.1,344.4 L874.6,341.8 L873.8,340.3 L872.2,340.1 L871.0,341.6 L869.1,342.5 L869.3,344.4 L869.9,345.8 L868.7,346.9Z M946.1,295.3 L948.0,289.3 L951.1,282.7 L954.3,276.6 L959.3,272.0 L967.4,267.7 L966.8,272.0 L959.3,278.0 L954.9,282.7 L953.0,288.0 L951.1,295.3 L953.0,296.8 L949.3,296.4Z M1053.2,275.6 L1058.3,273.0 L1063.3,275.6 L1069.5,277.1 L1067.0,279.0 L1059.5,279.0Z M1059.5,342.3 L1060.8,345.0 L1061.0,348.1 L1061.4,351.0 L1062.6,353.0 L1060.8,355.8 L1061.4,358.2 L1059.5,358.5 L1059.5,355.8 L1059.5,352.0 L1059.3,348.1 L1059.1,344.4Z M1057.0,366.3 L1057.4,363.5 L1059.1,359.6 L1060.8,361.2 L1063.6,361.6 L1063.9,363.3 L1061.1,365.5 L1058.9,364.7 L1058.0,365.8Z M1058.6,366.5 L1059.5,369.6 L1058.3,371.6 L1058.0,373.9 L1058.0,375.7 L1056.8,376.7 L1055.5,377.2 L1053.2,377.3 L1053.0,377.8 L1051.7,379.0 L1050.9,377.8 L1048.9,377.6 L1047.0,378.3 L1045.7,378.3 L1045.7,377.3 L1047.7,376.1 L1049.5,375.8 L1051.4,375.8 L1052.9,373.9 L1053.6,372.8 L1053.6,373.9 L1055.1,373.0 L1056.4,371.3 L1057.0,369.2 L1057.0,367.7 L1057.4,366.9Z M1044.5,379.0 L1045.7,378.6 L1046.7,379.5 L1046.4,382.0 L1045.4,382.7 L1044.7,381.2 L1044.1,379.8Z M1047.6,378.3 L1049.9,377.8 L1050.4,378.6 L1049.5,379.3 L1048.2,380.1 L1047.4,379.3Z M1033.2,391.0 L1034.5,391.2 L1033.7,393.7 L1033.0,395.3 L1032.2,394.2 L1032.2,392.9Z M1017.8,399.1 L1018.8,398.0 L1020.5,398.1 L1019.9,399.7 L1018.8,400.4 L1017.8,399.9Z M1032.6,400.0 L1034.7,400.1 L1034.8,402.6 L1034.0,404.6 L1035.1,405.9 L1037.0,406.1 L1037.0,407.7 L1035.7,406.9 L1034.2,406.1 L1032.8,406.1 L1032.2,404.8 L1031.8,403.0 L1032.4,401.6Z M1034.5,408.7 L1036.3,409.1 L1038.2,407.8 L1039.1,409.7 L1038.2,411.0 L1036.7,411.4 L1035.1,411.6 L1034.5,410.4Z M1034.5,414.8 L1036.3,412.9 L1038.8,411.3 L1040.1,413.5 L1039.8,415.7 L1038.8,416.3 L1037.0,415.7 L1036.7,414.2Z M1028.4,412.9 L1031.3,409.3 L1031.1,410.8 L1028.8,413.2Z M1018.2,421.7 L1018.8,421.1 L1020.9,421.1 L1023.2,419.6 L1024.4,417.8 L1026.9,415.1 L1028.4,414.8 L1030.1,416.7 L1030.7,417.3 L1029.2,418.6 L1029.4,420.5 L1030.7,422.3 L1029.1,422.7 L1028.8,424.6 L1027.6,425.9 L1026.9,428.4 L1025.2,428.6 L1023.2,427.6 L1021.3,427.4 L1019.7,425.7 L1018.4,424.2Z M1001.0,416.6 L1003.8,417.1 L1005.3,418.8 L1007.4,420.8 L1008.8,421.5 L1010.6,423.0 L1011.7,424.9 L1012.5,426.5 L1014.4,427.4 L1014.3,430.9 L1012.5,430.9 L1009.8,428.6 L1008.1,426.7 L1007.3,424.9 L1005.6,423.0 L1005.0,421.3 L1003.1,419.8Z M1013.4,432.1 L1015.0,431.1 L1017.5,431.8 L1020.4,431.6 L1022.8,432.4 L1025.1,433.4 L1024.9,434.5 L1021.3,434.0 L1017.5,433.4 L1014.9,432.9Z M1025.7,433.9 L1028.2,434.0 L1030.7,434.2 L1033.2,434.2 L1035.7,433.9 L1035.5,434.7 L1031.9,434.9 L1029.4,434.9 L1026.9,434.9Z M1036.3,436.6 L1038.2,434.9 L1040.7,434.2 L1040.1,434.9 L1037.6,436.4Z M1031.7,422.6 L1033.0,422.0 L1035.7,422.3 L1038.2,421.6 L1037.6,423.0 L1035.7,423.0 L1033.2,423.0 L1032.2,424.6 L1033.8,424.7 L1036.1,424.6 L1035.7,425.5 L1034.2,425.9 L1035.1,427.6 L1036.0,429.2 L1035.1,430.5 L1033.8,429.6 L1033.2,427.4 L1032.6,427.4 L1032.4,430.5 L1031.3,430.5 L1031.1,428.0 L1030.4,427.1 L1031.3,424.9Z M1041.3,421.1 L1042.6,421.7 L1042.6,424.2 L1041.7,423.2Z M1042.0,427.4 L1045.5,427.4 L1045.1,428.1 L1042.2,428.0Z M1045.7,424.6 L1047.6,424.1 L1049.5,424.6 L1050.1,426.7 L1051.4,427.7 L1053.2,425.9 L1055.8,426.1 L1058.3,426.9 L1060.8,427.9 L1062.6,428.4 L1064.5,430.1 L1066.8,431.1 L1066.8,432.0 L1065.8,432.4 L1067.0,434.3 L1068.9,435.9 L1070.5,436.8 L1068.9,436.7 L1066.4,436.2 L1065.1,434.7 L1062.6,433.3 L1060.8,434.3 L1061.1,434.9 L1058.3,435.2 L1056.4,433.9 L1054.5,434.0 L1055.1,432.4 L1054.5,430.5 L1052.0,429.4 L1049.5,428.5 L1048.0,428.6 L1047.0,427.1 L1048.9,426.5 L1047.0,426.1Z M1067.7,430.6 L1069.5,429.9 L1072.0,428.9 L1072.4,429.9 L1070.8,431.1 L1068.9,431.4Z M1024.1,452.5 L1024.6,451.6 L1025.7,451.2 L1027.9,450.0 L1030.7,449.2 L1033.2,448.5 L1034.8,446.5 L1035.5,445.0 L1037.6,443.9 L1038.8,442.0 L1040.5,441.3 L1042.0,442.4 L1043.9,442.4 L1044.5,440.7 L1045.5,439.3 L1047.6,438.7 L1047.7,437.9 L1050.7,439.0 L1053.0,439.0 L1052.0,440.7 L1051.4,442.6 L1053.2,443.7 L1055.8,445.0 L1058.0,445.9 L1058.9,443.3 L1059.1,440.7 L1059.5,438.1 L1060.1,437.1 L1061.4,439.4 L1061.4,441.6 L1063.6,442.6 L1063.9,444.6 L1064.8,447.2 L1066.4,448.4 L1068.3,449.9 L1068.9,451.9 L1070.5,453.6 L1072.7,455.7 L1073.5,457.4 L1073.9,460.5 L1073.3,463.8 L1072.7,466.7 L1071.2,468.6 L1069.9,471.7 L1069.5,474.0 L1067.0,475.0 L1064.9,476.9 L1063.3,475.6 L1061.4,476.4 L1058.3,475.3 L1056.8,473.6 L1056.4,471.7 L1054.8,471.4 L1055.1,470.2 L1054.2,466.8 L1053.2,468.9 L1052.0,470.2 L1051.4,470.2 L1050.1,467.4 L1048.2,466.0 L1045.7,465.2 L1043.2,465.4 L1039.5,466.4 L1037.0,467.4 L1036.3,468.8 L1031.9,468.8 L1029.4,470.5 L1026.9,470.3 L1025.7,469.4 L1026.6,465.8 L1025.7,463.5 L1025.1,460.9 L1023.8,457.4 L1023.8,455.3Z M1062.9,479.7 L1065.1,480.2 L1067.4,479.9 L1067.3,482.0 L1066.4,483.7 L1064.9,484.4 L1063.6,482.5Z M1098.0,469.6 L1100.0,470.9 L1101.5,472.8 L1102.1,474.5 L1105.2,474.7 L1104.4,477.1 L1103.4,477.7 L1102.7,479.7 L1101.2,481.0 L1100.6,480.5 L1100.9,478.4 L1099.4,477.2 L1100.5,475.9 L1100.5,473.6 L1098.4,470.5Z M1098.0,479.2 L1099.9,480.9 L1099.0,483.4 L1098.0,484.8 L1096.1,486.5 L1095.5,488.7 L1093.3,489.7 L1091.5,489.0 L1090.2,488.3 L1092.1,485.5 L1094.6,483.4 L1096.5,481.4Z M981.6,411.4 L982.1,411.3 L983.5,412.9 L984.2,414.6 L983.5,415.7 L982.2,416.2 L981.6,414.8 L981.6,412.9Z M897.3,372.1 L901.1,371.7 L900.6,374.1 L897.3,372.7Z M892.0,367.2 L893.8,367.0 L893.8,370.1 L892.2,370.5Z M892.5,364.5 L893.5,363.8 L893.5,366.3 L892.5,365.8Z M911.2,375.8 L914.4,376.3 L912.3,376.9Z M922.2,376.7 L924.8,375.8 L923.6,377.2Z M686.1,398.1 L687.4,398.5 L686.6,399.3Z M1087.1,449.5 L1090.2,451.9 L1090.8,452.4 L1087.7,450.5Z M1104.0,445.9 L1105.2,445.9 L1105.2,446.8 L1104.0,446.8Z M1077.1,432.4 L1082.1,434.9 L1083.9,436.6 L1080.8,434.9Z M895.2,250.7 L899.3,248.8 L903.5,250.0 L905.0,247.7 L907.7,253.0 L905.0,257.5 L904.7,263.5 L902.0,268.3 L899.7,266.5 L897.5,259.0 L895.7,255.2Z M904.2,246.2 L909.5,244.0 L914.7,246.2 L915.2,249.2 L911.0,251.5 L906.5,250.0Z M908.3,260.2 L911.0,259.7 L911.7,262.7 L908.7,263.8Z M939.2,243.7 L941.7,242.5 L945.5,242.5 L944.0,244.3 L941.7,247.0 L940.7,245.5Z M996.5,244.7 L1001.0,239.2 L1004.0,242.5 L1006.2,250.0 L1007.7,254.5 L1004.0,256.0 L1000.2,252.2 L998.0,247.7Z M1007.7,256.0 L1010.0,253.3 L1013.3,257.5 L1010.0,260.2 L1007.0,260.8Z" fill="#2d9cdc" stroke="#2d9cdc" stroke-width="0.6" stroke-linejoin="round"/>
<path d="M940.5,359.4 L943.6,357.6 L945.5,357.1 L948.0,357.6 L948.0,360.0 L945.5,361.2 L944.6,361.6 L946.1,363.5 L947.8,365.5 L947.4,367.2 L948.0,368.8 L949.0,370.5 L949.0,373.2 L946.8,373.9 L944.6,373.2 L943.0,372.5 L942.7,371.3 L943.4,369.6 L943.6,368.0 L942.4,365.8 L941.1,363.8 L941.1,361.2Z" fill="#fff"/>
<circle cx="1055" cy="371.5" r="14.4" fill="#fff" stroke="#ff4500" stroke-width="10.4"/>
<text x="127.5" y="231.0" font-size="30" font-weight="bold" stroke="#005e9c" stroke-width="0.48" fill="#005e9c" textLength="363.5" lengthAdjust="spacing">PIÙ CALDO AD AGOSTO</text>
<text x="215.8" y="268.5" font-size="18" fill="#005e9c" textLength="275.0" lengthAdjust="spacing">Il mese di agosto è il più caldo a</text>
<text x="215.8" y="292.0" font-size="18" fill="#005e9c" textLength="338.8" lengthAdjust="spacing">Minamichita-cho, con temperature che</text>
<text x="215.8" y="315.5" font-size="18" fill="#005e9c" textLength="392.5" lengthAdjust="spacing">oscillano tra i 31°C di giorno e i 25°C di notte.</text>
<text x="127.5" y="420.0" font-size="30" font-weight="bold" stroke="#005e9c" stroke-width="0.48" fill="#005e9c" textLength="378.0" lengthAdjust="spacing">PIÙ FREDDO A GENNAIO</text>
<text x="215.8" y="463.3" font-size="18" fill="#005e9c" textLength="375.0" lengthAdjust="spacing">Il mese più freddo dell'anno è gennaio, con</text>
<text x="215.8" y="486.8" font-size="18" fill="#005e9c" textLength="333.4" lengthAdjust="spacing">temperature medie che arrivano a 9°C</text>
<text x="215.8" y="510.3" font-size="18" fill="#005e9c" textLength="375.0" lengthAdjust="spacing">durante il giorno e si abbassano a circa 3°C</text>
<text x="215.8" y="533.8" font-size="18" fill="#005e9c" textLength="70.9" lengthAdjust="spacing">di notte.</text>
<g transform="translate(1154.8,235.8) rotate(90)">
<text x="0.0" y="0.0" font-size="20" font-weight="bold" stroke="#005e9c" stroke-width="0.32" fill="#005e9c" textLength="261.0" lengthAdjust="spacingAndGlyphs">34° 43' 41'' N — 136° 55' 18'' E</text>
</g>
<g transform="translate(1138,235.8) rotate(90)">
<text x="0.0" y="0.0" font-size="13" fill="#2d7fc0" textLength="33.0" lengthAdjust="spacingAndGlyphs">AICHI</text>
</g>
<path d="M40,608.4 a20,20 0 0 1 20,-20 H96 V707.6 H67.5 a27.5,23 0 0 0 -27.5,23 Z" fill="#2d9cdc"/>
<path d="M96,588.4 H1140 a20,20 0 0 1 20,20 V687.6 a20,20 0 0 1 -20,20 H96 Z" fill="#b0dcff"/>
<text x="600.0" y="661.9" font-size="41" font-weight="bold" stroke="#005e9c" stroke-width="0.66" fill="#005e9c" text-anchor="middle" textLength="303.3" lengthAdjust="spacingAndGlyphs">TEMPERATURA</text>
<circle cx="105" cy="648" r="36" fill="#fff" stroke="#005e9c" stroke-width="2.5"/>
<path d="M106.83,606.04 L107.31,595.05 M122.75,609.94 L130.95,592.35 M135.97,619.63 L144.08,612.19 M144.47,633.64 L162.70,627.00 M146.96,649.83 L157.95,650.31 M143.06,665.75 L160.65,673.95 M133.37,678.97 L140.81,687.08 M119.36,687.47 L126.00,705.70 M103.17,689.96 L102.69,700.95 M87.25,686.06 L79.05,703.65 M74.03,676.37 L65.92,683.81 M65.53,662.36 L47.30,669.00 M63.04,646.17 L52.05,645.69 M66.94,630.25 L49.35,622.05 M76.63,617.03 L69.19,608.92 M90.64,608.53 L84.00,590.30 M82.99,626.74 A30.6,30.6 0 0 1 101.27,617.63 M122.99,672.76 A30.6,30.6 0 0 1 107.67,678.48 M102.87,678.53 A30.6,30.6 0 0 1 99.16,678.04" fill="none" stroke="#005e9c" stroke-width="2.5" stroke-linecap="round"/>
<path d="M40,1364 a20,20 0 0 1 20,-20 H96 V1462.8 H67.5 a27.5,23 0 0 0 -27.5,23 Z" fill="#2d9cdc"/>
<path d="M96,1344 H1140 a20,20 0 0 1 20,20 V1442.8 a20,20 0 0 1 -20,20 H96 Z" fill="#b0dcff"/>
<text x="600.0" y="1417.5" font-size="41" font-weight="bold" stroke="#005e9c" stroke-width="0.66" fill="#005e9c" text-anchor="middle" textLength="324.0" lengthAdjust="spacingAndGlyphs">PRECIPITAZIONI</text>
<g transform="translate(50,1340) scale(0.10417)" stroke="#005e9c" stroke-width="23" stroke-linecap="round" stroke-linejoin="round" fill="none"><path d="M432,715 L102.4,1045.7 A68,68 0 1 0 213.5,1111.1"/><path d="M432,65 Q490,205 635,265 Q725,430 885,515 Q955,650 1090,715 A463,463 0 0 1 432,715 A463,463 0 0 1 432,65 Z" fill="#fff"/><path d="M432.0,715.0 L430.7,707.8 L429.7,700.6 L428.8,693.4 L428.1,686.1 L427.5,678.7 L427.2,671.4 L427.1,664.0 L427.1,656.5 L427.3,649.0 L427.7,641.5 L428.3,633.9 L429.1,626.3 M438.9,575.5 L446.0,551.6 L454.8,527.4 L465.3,502.7 L477.4,477.8 L491.3,452.5 L506.8,426.8 L523.9,400.7 L542.8,374.3 L563.3,347.5 L585.6,320.4 L609.4,292.9 L635.0,265.0 M432.0,715.0 L454.6,715.0 L477.2,713.8 L500.0,711.5 L522.8,708.1 L545.8,703.6 L568.8,697.9 L591.9,691.1 L615.1,683.3 L638.4,674.2 L661.8,664.1 L685.3,652.9 L708.9,640.5 M782.4,595.0 L790.9,589.1 L799.4,583.1 L807.9,576.9 L816.4,570.6 L825.0,564.2 L833.5,557.6 L842.1,550.8 L850.6,543.9 L859.2,536.9 L867.8,529.8 L876.4,522.4 L885.0,515.0 M361.2,460.3 A405,405 0 0 1 361.8,316.2 M918.2,762.8 A405,405 0 0 1 802.3,792.8"/></g>
<path d="M105.0,979.5H731.0 M105.0,933.5H731.0 M105.0,887.5H731.0 M105.0,842.5H731.0 M105.0,796.5H731.0 M105.0,750.5H731.0 M131.5,750.5V1025.0 M183.5,750.5V1025.0 M235.5,750.5V1025.0 M287.5,750.5V1025.0 M339.5,750.5V1025.0 M391.5,750.5V1025.0 M444.5,750.5V1025.0 M496.5,750.5V1025.0 M548.5,750.5V1025.0 M600.5,750.5V1025.0 M652.5,750.5V1025.0 M704.5,750.5V1025.0" stroke="#b3cde3" stroke-width="1" fill="none"/>
<path d="M105.5,750.0V1026.0 M100.0,1025.5H731.0 M100.0,1025.5H105.5 M100.0,979.5H105.5 M100.0,933.5H105.5 M100.0,887.5H105.5 M100.0,842.5H105.5 M100.0,796.5H105.5 M100.0,750.5H105.5" stroke="#005e9c" stroke-width="1" fill="none"/>
<text x="94.7" y="1028.9" font-size="11" fill="#005e9c" text-anchor="end" textLength="18.5" lengthAdjust="spacing">0°C</text>
<text x="94.7" y="983.1" font-size="11" fill="#005e9c" text-anchor="end" textLength="18.5" lengthAdjust="spacing">5°C</text>
<text x="94.7" y="937.4" font-size="11" fill="#005e9c" text-anchor="end" textLength="25.5" lengthAdjust="spacing">10°C</text>
<text x="94.7" y="891.6" font-size="11" fill="#005e9c" text-anchor="end" textLength="25.5" lengthAdjust="spacing">15°C</text>
<text x="94.7" y="845.9" font-size="11" fill="#005e9c" text-anchor="end" textLength="25.5" lengthAdjust="spacing">20°C</text>
<text x="94.7" y="800.1" font-size="11" fill="#005e9c" text-anchor="end" textLength="25.5" lengthAdjust="spacing">25°C</text>
<text x="94.7" y="754.4" font-size="11" fill="#005e9c" text-anchor="end" textLength="25.5" lengthAdjust="spacing">30°C</text>
<text x="129.6" y="1046.0" font-size="13" fill="#10609f" text-anchor="middle">Gen</text>
<text x="181.8" y="1046.0" font-size="13" fill="#10609f" text-anchor="middle">Feb</text>
<text x="233.9" y="1046.0" font-size="13" fill="#10609f" text-anchor="middle">Mar</text>
<text x="286.1" y="1046.0" font-size="13" fill="#10609f" text-anchor="middle">Apr</text>
<text x="338.2" y="1046.0" font-size="13" fill="#10609f" text-anchor="middle">Mag</text>
<text x="390.4" y="1046.0" font-size="13" fill="#10609f" text-anchor="middle">Giu</text>
<text x="442.6" y="1046.0" font-size="13" fill="#10609f" text-anchor="middle">Lug</text>
<text x="494.8" y="1046.0" font-size="13" fill="#10609f" text-anchor="middle">Ago</text>
<text x="546.9" y="1046.0" font-size="13" fill="#10609f" text-anchor="middle">Set</text>
<text x="599.1" y="1046.0" font-size="13" fill="#10609f" text-anchor="middle">Ott</text>
<text x="651.2" y="1046.0" font-size="13" fill="#10609f" text-anchor="middle">Nov</text>
<text x="703.4" y="1046.0" font-size="13" fill="#10609f" text-anchor="middle">Dic</text>
<g transform="translate(50,888) rotate(-90)">
<text x="0.0" y="0.0" font-size="12" fill="#1a6aab" text-anchor="middle" textLength="81.0" lengthAdjust="spacing">Temperatura</text>
</g>
<polyline points="132.2,942.6 184.3,933.5 236.5,906.0 288.7,860.3 340.9,823.7 393.0,796.2 445.2,759.6 497.4,750.5 549.5,778.0 601.7,823.7 653.9,869.5 706.0,915.2" fill="none" stroke="#ff561a" stroke-width="4" stroke-linejoin="round" stroke-linecap="round"/>
<circle cx="132.2" cy="942.6" r="3.8" fill="#fff" stroke="#ff561a" stroke-width="1.1"/>
<circle cx="184.3" cy="933.5" r="3.8" fill="#fff" stroke="#ff561a" stroke-width="1.1"/>
<circle cx="236.5" cy="906.0" r="3.8" fill="#fff" stroke="#ff561a" stroke-width="1.1"/>
<circle cx="288.7" cy="860.3" r="3.8" fill="#fff" stroke="#ff561a" stroke-width="1.1"/>
<circle cx="340.9" cy="823.7" r="3.8" fill="#fff" stroke="#ff561a" stroke-width="1.1"/>
<circle cx="393.0" cy="796.2" r="3.8" fill="#fff" stroke="#ff561a" stroke-width="1.1"/>
<circle cx="445.2" cy="759.6" r="3.8" fill="#fff" stroke="#ff561a" stroke-width="1.1"/>
<circle cx="497.4" cy="750.5" r="3.8" fill="#fff" stroke="#ff561a" stroke-width="1.1"/>
<circle cx="549.5" cy="778.0" r="3.8" fill="#fff" stroke="#ff561a" stroke-width="1.1"/>
<circle cx="601.7" cy="823.7" r="3.8" fill="#fff" stroke="#ff561a" stroke-width="1.1"/>
<circle cx="653.9" cy="869.5" r="3.8" fill="#fff" stroke="#ff561a" stroke-width="1.1"/>
<circle cx="706.0" cy="915.2" r="3.8" fill="#fff" stroke="#ff561a" stroke-width="1.1"/>
<polyline points="132.2,997.5 184.3,988.4 236.5,970.1 288.7,933.5 340.9,887.8 393.0,842.0 445.2,805.4 497.4,796.2 549.5,823.7 601.7,878.6 653.9,924.4 706.0,970.1" fill="none" stroke="#38a2df" stroke-width="4" stroke-linejoin="round" stroke-linecap="round"/>
<circle cx="132.2" cy="997.5" r="3.8" fill="#fff" stroke="#38a2df" stroke-width="1.1"/>
<circle cx="184.3" cy="988.4" r="3.8" fill="#fff" stroke="#38a2df" stroke-width="1.1"/>
<circle cx="236.5" cy="970.1" r="3.8" fill="#fff" stroke="#38a2df" stroke-width="1.1"/>
<circle cx="288.7" cy="933.5" r="3.8" fill="#fff" stroke="#38a2df" stroke-width="1.1"/>
<circle cx="340.9" cy="887.8" r="3.8" fill="#fff" stroke="#38a2df" stroke-width="1.1"/>
<circle cx="393.0" cy="842.0" r="3.8" fill="#fff" stroke="#38a2df" stroke-width="1.1"/>
<circle cx="445.2" cy="805.4" r="3.8" fill="#fff" stroke="#38a2df" stroke-width="1.1"/>
<circle cx="497.4" cy="796.2" r="3.8" fill="#fff" stroke="#38a2df" stroke-width="1.1"/>
<circle cx="549.5" cy="823.7" r="3.8" fill="#fff" stroke="#38a2df" stroke-width="1.1"/>
<circle cx="601.7" cy="878.6" r="3.8" fill="#fff" stroke="#38a2df" stroke-width="1.1"/>
<circle cx="653.9" cy="924.4" r="3.8" fill="#fff" stroke="#38a2df" stroke-width="1.1"/>
<circle cx="706.0" cy="970.1" r="3.8" fill="#fff" stroke="#38a2df" stroke-width="1.1"/>
<path d="M196.2,1080.5H226.4" stroke="#ff561a" stroke-width="3"/>
<circle cx="211.3" cy="1080.5" r="2.9" fill="#fff" stroke="#ff561a" stroke-width="1"/>
<text x="236.0" y="1084.0" font-size="13" fill="#10609f" textLength="141.0" lengthAdjust="spacing">Temperatura massima</text>
<path d="M406.2,1080.5H436.4" stroke="#38a2df" stroke-width="3"/>
<circle cx="421.3" cy="1080.5" r="2.9" fill="#fff" stroke="#38a2df" stroke-width="1"/>
<text x="446.0" y="1084.0" font-size="13" fill="#10609f" textLength="133.0" lengthAdjust="spacing">Temperatura minima</text>
<text x="785.0" y="763.5" font-size="18" font-weight="bold" stroke="#005e9c" stroke-width="0.29" fill="#005e9c" textLength="301.0" lengthAdjust="spacing">TEMPERATURA MEDIA ANNUALE</text>
<text x="784.8" y="829.5" font-size="14" fill="#005e9c">•</text>
<text x="796.9" y="831.0" font-size="18" fill="#005e9c" textLength="279.1" lengthAdjust="spacing">La temperatura massima media</text>
<text x="785.0" y="854.5" font-size="18" fill="#005e9c" textLength="169.5" lengthAdjust="spacing">annuale è di 19.6°C</text>
<text x="784.8" y="900.5" font-size="14" fill="#005e9c">•</text>
<text x="796.9" y="902.0" font-size="18" fill="#005e9c" textLength="343.6" lengthAdjust="spacing">La temperatura minima media annuale</text>
<text x="785.0" y="925.5" font-size="18" fill="#005e9c" textLength="93.5" lengthAdjust="spacing">è di 13.5°C</text>
<text x="784.8" y="971.5" font-size="14" fill="#005e9c">•</text>
<text x="796.9" y="973.0" font-size="18" fill="#005e9c" textLength="295.1" lengthAdjust="spacing">La temperatura media giornaliera</text>
<text x="785.0" y="996.5" font-size="18" fill="#005e9c" textLength="169.5" lengthAdjust="spacing">annuale è di 16.6°C</text>
<text x="598.5" y="1154.0" font-size="20" font-weight="bold" stroke="#005e9c" stroke-width="0.32" fill="#005e9c" text-anchor="middle" textLength="395.0" lengthAdjust="spacing">TEMPERATURA MEDIA GIORNALIERA</text>
<clipPath id="tclip"><rect x="41" y="1186" width="1119" height="109.5" rx="6"/></clipPath>
<g clip-path="url(#tclip)">
<rect x="41.00" y="1186.0" width="93.75" height="109.5" fill="#fff0e2"/>
<rect x="134.25" y="1186.0" width="93.75" height="109.5" fill="#ffeddc"/>
<rect x="227.50" y="1186.0" width="93.75" height="109.5" fill="#ffdbb8"/>
<rect x="320.75" y="1186.0" width="93.75" height="109.5" fill="#ffb870"/>
<rect x="414.00" y="1186.0" width="93.75" height="109.5" fill="#ff9836"/>
<rect x="507.25" y="1186.0" width="93.75" height="109.5" fill="#ff8208"/>
<rect x="600.50" y="1186.0" width="93.75" height="109.5" fill="#ff6a00"/>
<rect x="693.75" y="1186.0" width="93.75" height="109.5" fill="#ff5d00"/>
<rect x="787.00" y="1186.0" width="93.75" height="109.5" fill="#ff7a03"/>
<rect x="880.25" y="1186.0" width="93.75" height="109.5" fill="#ff9836"/>
<rect x="973.50" y="1186.0" width="93.75" height="109.5" fill="#ffb870"/>
<rect x="1066.75" y="1186.0" width="93.75" height="109.5" fill="#ffe0c2"/>
<rect x="41.0" y="1225" width="1119.0" height="1" fill="#fff" opacity="0.85"/>
</g>
<text x="86.6" y="1211.5" font-size="17.5" font-weight="bold" fill="#000" text-anchor="middle" fill-opacity="0.5">GEN</text>
<text x="86.6" y="1270.5" font-size="28" font-weight="bold" fill="#000" text-anchor="middle" textLength="28.4" lengthAdjust="spacingAndGlyphs" fill-opacity="0.5">6°</text>
<text x="179.9" y="1211.5" font-size="17.5" font-weight="bold" fill="#000" text-anchor="middle" fill-opacity="0.5">FEB</text>
<text x="179.9" y="1270.5" font-size="28" font-weight="bold" fill="#000" text-anchor="middle" textLength="28.4" lengthAdjust="spacingAndGlyphs" fill-opacity="0.5">7°</text>
<text x="273.1" y="1211.5" font-size="17.5" font-weight="bold" fill="#000" text-anchor="middle" fill-opacity="0.5">MAR</text>
<text x="273.1" y="1270.5" font-size="28" font-weight="bold" fill="#000" text-anchor="middle" textLength="44.9" lengthAdjust="spacingAndGlyphs" fill-opacity="0.5">10°</text>
<text x="366.4" y="1211.5" font-size="17.5" font-weight="bold" fill="#000" text-anchor="middle" fill-opacity="0.5">APR</text>
<text x="366.4" y="1270.5" font-size="28" font-weight="bold" fill="#000" text-anchor="middle" textLength="44.9" lengthAdjust="spacingAndGlyphs" fill-opacity="0.5">14°</text>
<text x="459.6" y="1211.5" font-size="17.5" font-weight="bold" fill="#000" text-anchor="middle" fill-opacity="0.5">MAG</text>
<text x="459.6" y="1270.5" font-size="28" font-weight="bold" fill="#000" text-anchor="middle" textLength="44.9" lengthAdjust="spacingAndGlyphs" fill-opacity="0.5">19°</text>
<text x="552.9" y="1211.5" font-size="17.5" font-weight="bold" fill="#000" text-anchor="middle" fill-opacity="0.5">GIU</text>
<text x="552.9" y="1270.5" font-size="28" font-weight="bold" fill="#000" text-anchor="middle" textLength="44.9" lengthAdjust="spacingAndGlyphs" fill-opacity="0.5">23°</text>
<text x="646.1" y="1211.5" font-size="17.5" font-weight="bold" fill="#000" text-anchor="middle" fill-opacity="0.5">LUG</text>
<text x="646.1" y="1270.5" font-size="28" font-weight="bold" fill="#000" text-anchor="middle" textLength="44.9" lengthAdjust="spacingAndGlyphs" fill-opacity="0.5">26°</text>
<text x="739.4" y="1211.5" font-size="17.5" font-weight="bold" fill="#000" text-anchor="middle" fill-opacity="0.5">AGO</text>
<text x="739.4" y="1270.5" font-size="28" font-weight="bold" fill="#000" text-anchor="middle" textLength="44.9" lengthAdjust="spacingAndGlyphs" fill-opacity="0.5">28°</text>
<text x="832.6" y="1211.5" font-size="17.5" font-weight="bold" fill="#000" text-anchor="middle" fill-opacity="0.5">SET</text>
<text x="832.6" y="1270.5" font-size="28" font-weight="bold" fill="#000" text-anchor="middle" textLength="44.9" lengthAdjust="spacingAndGlyphs" fill-opacity="0.5">24°</text>
<text x="925.9" y="1211.5" font-size="17.5" font-weight="bold" fill="#000" text-anchor="middle" fill-opacity="0.5">OTT</text>
<text x="925.9" y="1270.5" font-size="28" font-weight="bold" fill="#000" text-anchor="middle" textLength="44.9" lengthAdjust="spacingAndGlyphs" fill-opacity="0.5">19°</text>
<text x="1019.1" y="1211.5" font-size="17.5" font-weight="bold" fill="#000" text-anchor="middle" fill-opacity="0.5">NOV</text>
<text x="1019.1" y="1270.5" font-size="28" font-weight="bold" fill="#000" text-anchor="middle" textLength="44.9" lengthAdjust="spacingAndGlyphs" fill-opacity="0.5">14°</text>
<text x="1112.4" y="1211.5" font-size="17.5" font-weight="bold" fill="#000" text-anchor="middle" fill-opacity="0.5">DIC</text>
<text x="1112.4" y="1270.5" font-size="28" font-weight="bold" fill="#000" text-anchor="middle" textLength="28.4" lengthAdjust="spacingAndGlyphs" fill-opacity="0.5">9°</text>
<path d="M115.5,1738.5H731.0 M115.5,1692.5H731.0 M115.5,1647.5H731.0 M115.5,1601.5H731.0 M115.5,1555.5H731.0 M115.5,1509.5H731.0 M166.5,1509.5V1784.5 M218.5,1509.5V1784.5 M269.5,1509.5V1784.5 M320.5,1509.5V1784.5 M371.5,1509.5V1784.5 M423.5,1509.5V1784.5 M474.5,1509.5V1784.5 M525.5,1509.5V1784.5 M577.5,1509.5V1784.5 M628.5,1509.5V1784.5 M679.5,1509.5V1784.5" stroke="#b3cde3" stroke-width="1" fill="none"/>
<rect x="130.8" y="1731.3" width="21.8" height="53.2" fill="#005e9c"/>
<rect x="182.1" y="1698.3" width="21.8" height="86.2" fill="#005e9c"/>
<rect x="233.4" y="1650.7" width="21.8" height="133.8" fill="#005e9c"/>
<rect x="284.7" y="1638.8" width="21.8" height="145.8" fill="#005e9c"/>
<rect x="336.0" y="1622.2" width="21.8" height="162.2" fill="#005e9c"/>
<rect x="387.3" y="1567.2" width="21.8" height="217.2" fill="#005e9c"/>
<rect x="438.6" y="1557.2" width="21.8" height="227.3" fill="#005e9c"/>
<rect x="489.9" y="1654.3" width="21.8" height="130.2" fill="#005e9c"/>
<rect x="541.2" y="1560.8" width="21.8" height="223.7" fill="#005e9c"/>
<rect x="592.5" y="1527.8" width="21.8" height="256.7" fill="#005e9c"/>
<rect x="643.8" y="1685.5" width="21.8" height="99.0" fill="#005e9c"/>
<rect x="695.1" y="1709.3" width="21.8" height="75.2" fill="#005e9c"/>
<path d="M115.5,1509.0V1785.0 M110.5,1784.5H731.0 M110.5,1784.5H115.5 M110.5,1738.5H115.5 M110.5,1692.5H115.5 M110.5,1647.5H115.5 M110.5,1601.5H115.5 M110.5,1555.5H115.5 M110.5,1509.5H115.5" stroke="#005e9c" stroke-width="1" fill="none"/>
<text x="105.2" y="1788.4" font-size="11" fill="#005e9c" text-anchor="end" textLength="29.0" lengthAdjust="spacing">0 mm</text>
<text x="105.2" y="1742.6" font-size="11" fill="#005e9c" text-anchor="end" textLength="36.0" lengthAdjust="spacing">50 mm</text>
<text x="105.2" y="1696.7" font-size="11" fill="#005e9c" text-anchor="end" textLength="43.0" lengthAdjust="spacing">100 mm</text>
<text x="105.2" y="1650.9" font-size="11" fill="#005e9c" text-anchor="end" textLength="43.0" lengthAdjust="spacing">150 mm</text>
<text x="105.2" y="1605.1" font-size="11" fill="#005e9c" text-anchor="end" textLength="43.0" lengthAdjust="spacing">200 mm</text>
<text x="105.2" y="1559.2" font-size="11" fill="#005e9c" text-anchor="end" textLength="43.0" lengthAdjust="spacing">250 mm</text>
<text x="105.2" y="1513.4" font-size="11" fill="#005e9c" text-anchor="end" textLength="43.0" lengthAdjust="spacing">300 mm</text>
<text x="139.6" y="1805.0" font-size="13" fill="#10609f" text-anchor="middle">Gen</text>
<text x="190.9" y="1805.0" font-size="13" fill="#10609f" text-anchor="middle">Feb</text>
<text x="242.2" y="1805.0" font-size="13" fill="#10609f" text-anchor="middle">Mar</text>
<text x="293.5" y="1805.0" font-size="13" fill="#10609f" text-anchor="middle">Apr</text>
<text x="344.8" y="1805.0" font-size="13" fill="#10609f" text-anchor="middle">Mag</text>
<text x="396.1" y="1805.0" font-size="13" fill="#10609f" text-anchor="middle">Giu</text>
<text x="447.4" y="1805.0" font-size="13" fill="#10609f" text-anchor="middle">Lug</text>
<text x="498.7" y="1805.0" font-size="13" fill="#10609f" text-anchor="middle">Ago</text>
<text x="550.0" y="1805.0" font-size="13" fill="#10609f" text-anchor="middle">Set</text>
<text x="601.3" y="1805.0" font-size="13" fill="#10609f" text-anchor="middle">Ott</text>
<text x="652.6" y="1805.0" font-size="13" fill="#10609f" text-anchor="middle">Nov</text>
<text x="703.9" y="1805.0" font-size="13" fill="#10609f" text-anchor="middle">Dic</text>
<g transform="translate(50,1647) rotate(-90)">
<text x="0.0" y="0.0" font-size="12" fill="#1a6aab" text-anchor="middle" textLength="86.0" lengthAdjust="spacing">Precipitazioni</text>
</g>
<rect x="316" y="1835" width="8" height="8" fill="#005e9c"/>
<text x="332.0" y="1843.0" font-size="13" fill="#10609f" textLength="126.0" lengthAdjust="spacing">Totale precipitazioni</text>
<text x="785.0" y="1522.5" font-size="18" fill="#005e9c" textLength="340.0" lengthAdjust="spacing">La media annuale delle precipitazioni a</text>
<text x="785.0" y="1546.3" font-size="18" fill="#005e9c" textLength="347.0" lengthAdjust="spacing">Minamichita-cho è di circa 1974 mm. La</text>
<text x="785.0" y="1570.1" font-size="18" fill="#005e9c" textLength="324.5" lengthAdjust="spacing">differenza tra il mese con la massima</text>
<text x="785.0" y="1593.9" font-size="18" fill="#005e9c" textLength="337.0" lengthAdjust="spacing">precipitazione (ottobre) e quello con la</text>
<text x="785.0" y="1617.7" font-size="18" fill="#005e9c" textLength="271.5" lengthAdjust="spacing">minima (gennaio) è di 222 mm.</text>
<text x="785.0" y="1665.3" font-size="18" fill="#005e9c" textLength="355.0" lengthAdjust="spacing">Le precipitazioni più intense si verificano</text>
<text x="785.0" y="1689.1" font-size="18" fill="#005e9c" textLength="345.0" lengthAdjust="spacing">ad ottobre, con una quantità mensile di</text>
<text x="785.0" y="1712.9" font-size="18" fill="#005e9c" textLength="246.5" lengthAdjust="spacing">280 mm e una probabilità di</text>
<text x="785.0" y="1736.7" font-size="18" fill="#005e9c" textLength="267.5" lengthAdjust="spacing">precipitazioni di circa il 36%. Al</text>
<text x="785.0" y="1760.5" font-size="18" fill="#005e9c" textLength="335.0" lengthAdjust="spacing">contrario, le precipitazioni più basse si</text>
<text x="785.0" y="1784.3" font-size="18" fill="#005e9c" textLength="341.5" lengthAdjust="spacing">registrano a gennaio, con una media di</text>
<text x="785.0" y="1808.1" font-size="18" fill="#005e9c" textLength="298.5" lengthAdjust="spacing">58 mm e una probabilità dell'15%.</text>
<rect x="37.0" y="1870.0" width="703.0" height="150.5" rx="7" fill="#b0dcff"/>
<path d="M37.0,1901.5 V1877.0 a7,7 0 0 1 7,-7 H733.0 a7,7 0 0 1 7,7 V1901.5 Z" fill="#2d9cdc"/>
<text x="388.5" y="1892.8" font-size="16.2" font-weight="bold" stroke="#fff" stroke-width="0.26" fill="#fff" text-anchor="middle" textLength="258.0" lengthAdjust="spacingAndGlyphs">PROBABILITÀ DI PRECIPITAZIONI</text>
<path d="M66.8,1915 C74.8,1931 91.8,1948 91.8,1966 A25,25 0 0 1 41.8,1966 C41.8,1948 58.8,1931 66.8,1915 Z" fill="#2d9cdc"/>
<text x="66.8" y="1972.5" font-size="17.5" font-weight="bold" stroke="#fff" stroke-width="0.28" fill="#fff" text-anchor="middle" textLength="35.5" lengthAdjust="spacing">15%</text>
<text x="66.3" y="2008.7" font-size="12" font-weight="bold" stroke="#005e9c" stroke-width="0.19" fill="#005e9c" text-anchor="middle" textLength="23.4" lengthAdjust="spacingAndGlyphs">GEN</text>
<path d="M125.2,1915 C133.2,1931 150.2,1948 150.2,1966 A25,25 0 0 1 100.2,1966 C100.2,1948 117.2,1931 125.2,1915 Z" fill="#005e9c"/>
<text x="125.2" y="1972.5" font-size="17.5" font-weight="bold" stroke="#fff" stroke-width="0.28" fill="#fff" text-anchor="middle" textLength="35.5" lengthAdjust="spacing">26%</text>
<text x="124.8" y="2008.7" font-size="12" font-weight="bold" stroke="#005e9c" stroke-width="0.19" fill="#005e9c" text-anchor="middle" textLength="21.6" lengthAdjust="spacingAndGlyphs">FEB</text>
<path d="M183.7,1915 C191.7,1931 208.7,1948 208.7,1966 A25,25 0 0 1 158.7,1966 C158.7,1948 175.7,1931 183.7,1915 Z" fill="#005e9c"/>
<text x="183.7" y="1972.5" font-size="17.5" font-weight="bold" stroke="#fff" stroke-width="0.28" fill="#fff" text-anchor="middle" textLength="35.5" lengthAdjust="spacing">32%</text>
<text x="183.2" y="2008.7" font-size="12" font-weight="bold" stroke="#005e9c" stroke-width="0.19" fill="#005e9c" text-anchor="middle" textLength="24.6" lengthAdjust="spacingAndGlyphs">MAR</text>
<path d="M242.2,1915 C250.2,1931 267.2,1948 267.2,1966 A25,25 0 0 1 217.2,1966 C217.2,1948 234.2,1931 242.2,1915 Z" fill="#005e9c"/>
<text x="242.2" y="1972.5" font-size="17.5" font-weight="bold" stroke="#fff" stroke-width="0.28" fill="#fff" text-anchor="middle" textLength="35.5" lengthAdjust="spacing">33%</text>
<text x="241.7" y="2008.7" font-size="12" font-weight="bold" stroke="#005e9c" stroke-width="0.19" fill="#005e9c" text-anchor="middle" textLength="22.8" lengthAdjust="spacingAndGlyphs">APR</text>
<path d="M300.6,1915 C308.6,1931 325.6,1948 325.6,1966 A25,25 0 0 1 275.6,1966 C275.6,1948 292.6,1931 300.6,1915 Z" fill="#005e9c"/>
<text x="300.6" y="1972.5" font-size="17.5" font-weight="bold" stroke="#fff" stroke-width="0.28" fill="#fff" text-anchor="middle" textLength="35.5" lengthAdjust="spacing">31%</text>
<text x="300.1" y="2008.7" font-size="12" font-weight="bold" stroke="#005e9c" stroke-width="0.19" fill="#005e9c" text-anchor="middle" textLength="25.2" lengthAdjust="spacingAndGlyphs">MAG</text>
<path d="M359.1,1915 C367.1,1931 384.1,1948 384.1,1966 A25,25 0 0 1 334.1,1966 C334.1,1948 351.1,1931 359.1,1915 Z" fill="#005e9c"/>
<text x="359.1" y="1972.5" font-size="17.5" font-weight="bold" stroke="#fff" stroke-width="0.28" fill="#fff" text-anchor="middle" textLength="35.5" lengthAdjust="spacing">44%</text>
<text x="358.6" y="2008.7" font-size="12" font-weight="bold" stroke="#005e9c" stroke-width="0.19" fill="#005e9c" text-anchor="middle" textLength="19.2" lengthAdjust="spacingAndGlyphs">GIU</text>
<path d="M417.5,1915 C425.5,1931 442.5,1948 442.5,1966 A25,25 0 0 1 392.5,1966 C392.5,1948 409.5,1931 417.5,1915 Z" fill="#005e9c"/>
<text x="417.5" y="1972.5" font-size="17.5" font-weight="bold" stroke="#fff" stroke-width="0.28" fill="#fff" text-anchor="middle" textLength="35.5" lengthAdjust="spacing">43%</text>
<text x="417.0" y="2008.7" font-size="12" font-weight="bold" stroke="#005e9c" stroke-width="0.19" fill="#005e9c" text-anchor="middle" textLength="22.8" lengthAdjust="spacingAndGlyphs">LUG</text>
<path d="M476.0,1915 C484.0,1931 501.0,1948 501.0,1966 A25,25 0 0 1 451.0,1966 C451.0,1948 468.0,1931 476.0,1915 Z" fill="#005e9c"/>
<text x="476.0" y="1972.5" font-size="17.5" font-weight="bold" stroke="#fff" stroke-width="0.28" fill="#fff" text-anchor="middle" textLength="35.5" lengthAdjust="spacing">33%</text>
<text x="475.5" y="2008.7" font-size="12" font-weight="bold" stroke="#005e9c" stroke-width="0.19" fill="#005e9c" text-anchor="middle" textLength="24.6" lengthAdjust="spacingAndGlyphs">AGO</text>
<path d="M534.4,1915 C542.4,1931 559.4,1948 559.4,1966 A25,25 0 0 1 509.4,1966 C509.4,1948 526.4,1931 534.4,1915 Z" fill="#005e9c"/>
<text x="534.4" y="1972.5" font-size="17.5" font-weight="bold" stroke="#fff" stroke-width="0.28" fill="#fff" text-anchor="middle" textLength="35.5" lengthAdjust="spacing">42%</text>
<text x="533.9" y="2008.7" font-size="12" font-weight="bold" stroke="#005e9c" stroke-width="0.19" fill="#005e9c" text-anchor="middle" textLength="21.0" lengthAdjust="spacingAndGlyphs">SET</text>
<path d="M592.9,1915 C600.9,1931 617.9,1948 617.9,1966 A25,25 0 0 1 567.9,1966 C567.9,1948 584.9,1931 592.9,1915 Z" fill="#005e9c"/>
<text x="592.9" y="1972.5" font-size="17.5" font-weight="bold" stroke="#fff" stroke-width="0.28" fill="#fff" text-anchor="middle" textLength="35.5" lengthAdjust="spacing">36%</text>
<text x="592.4" y="2008.7" font-size="12" font-weight="bold" stroke="#005e9c" stroke-width="0.19" fill="#005e9c" text-anchor="middle" textLength="21.6" lengthAdjust="spacingAndGlyphs">OTT</text>
<path d="M651.3,1915 C659.3,1931 676.3,1948 676.3,1966 A25,25 0 0 1 626.3,1966 C626.3,1948 643.3,1931 651.3,1915 Z" fill="#2d9cdc"/>
<text x="651.3" y="1972.5" font-size="17.5" font-weight="bold" stroke="#fff" stroke-width="0.28" fill="#fff" text-anchor="middle" textLength="35.5" lengthAdjust="spacing">25%</text>
<text x="650.8" y="2008.7" font-size="12" font-weight="bold" stroke="#005e9c" stroke-width="0.19" fill="#005e9c" text-anchor="middle" textLength="23.4" lengthAdjust="spacingAndGlyphs">NOV</text>
<path d="M709.8,1915 C717.8,1931 734.8,1948 734.8,1966 A25,25 0 0 1 684.8,1966 C684.8,1948 701.8,1931 709.8,1915 Z" fill="#2d9cdc"/>
<text x="709.8" y="1972.5" font-size="17.5" font-weight="bold" stroke="#fff" stroke-width="0.28" fill="#fff" text-anchor="middle" textLength="35.5" lengthAdjust="spacing">21%</text>
<text x="709.2" y="2008.7" font-size="12" font-weight="bold" stroke="#005e9c" stroke-width="0.19" fill="#005e9c" text-anchor="middle" textLength="18.6" lengthAdjust="spacingAndGlyphs">DIC</text>
<text x="785.0" y="1954.0" font-size="18" font-weight="bold" stroke="#005e9c" stroke-width="0.29" fill="#005e9c" textLength="237.0" lengthAdjust="spacing">PRECIPITAZIONI PER TIPO</text>
<text x="784.8" y="1985.5" font-size="14" fill="#005e9c">•</text>
<text x="796.9" y="1987.0" font-size="18" fill="#005e9c" textLength="121.1" lengthAdjust="spacing">Pioggia: 100%</text>
<text x="784.8" y="2014.5" font-size="14" fill="#005e9c">•</text>
<text x="796.9" y="2016.0" font-size="18" fill="#005e9c" textLength="80.1" lengthAdjust="spacing">Neve: 0%</text>
<circle cx="58" cy="2111.1" r="17" fill="none" stroke="#b0dcff" stroke-width="3"/>
<circle cx="106.5" cy="2111.1" r="17" fill="none" stroke="#b0dcff" stroke-width="3"/>
<circle cx="154.8" cy="2111.1" r="17" fill="none" stroke="#b0dcff" stroke-width="3"/>
<text x="58" y="2116.7" font-size="17" font-weight="bold" fill="#b0dcff" stroke="#b0dcff" stroke-width="0.5" text-anchor="middle" textLength="21" lengthAdjust="spacingAndGlyphs" style="font-family:'DejaVu Sans','Liberation Sans',sans-serif">cc</text>
<circle cx="106.5" cy="2101.7999999999997" r="2.6" fill="#b0dcff"/>
<path d="M101.8,2105.7999999999997 h9.4 v9.6 h-2.3 v8.6 h-4.8 v-8.6 h-2.3 Z" fill="#b0dcff"/>
<rect x="147.8" y="2105.7" width="14" height="3.6" fill="#b0dcff"/><rect x="147.8" y="2112.7" width="14" height="3.6" fill="#b0dcff"/>
<text x="185.9" y="2116.5" font-size="15.4" font-weight="bold" fill="#b0dcff" style="font-family:'DejaVu Sans','Liberation Sans',sans-serif" textLength="113" lengthAdjust="spacing">CC BY-ND 4.0</text>
<text x="989.0" y="2120.0" font-size="21" font-weight="bold" stroke="#fff" stroke-width="0.34" fill="#fff" textLength="169.0" lengthAdjust="spacingAndGlyphs">METEOATLAS.IT</text>
</svg></body></html>
